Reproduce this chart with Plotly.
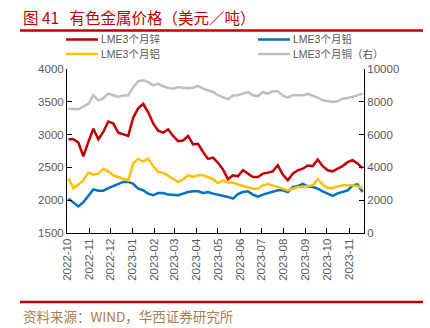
import pandas as pd
import plotly.graph_objects as go

# Weekly observation dates (Mondays)
dates = pd.date_range("2022-10-03", periods=60, freq="7D")

# LME 3-month prices, USD/t
zinc = [2930, 2930, 2880, 2670, 2890, 3090, 2930, 3040, 3200, 3170,
        3030, 3010, 2980, 3260, 3400, 3470, 3340, 3170, 3060, 3030,
        3080, 2980, 2900, 2910, 2980, 2850, 2860, 2735, 2630, 2650,
        2570, 2470, 2320, 2380, 2365, 2456, 2405, 2354, 2354, 2405,
        2420, 2440, 2532, 2390, 2303, 2405, 2456, 2480, 2530, 2520,
        2620, 2520, 2456, 2440, 2480, 2520, 2580, 2610, 2560, 2490]

lead = [2024, 1960, 1905, 1970, 2065, 2165, 2145, 2145, 2185, 2215,
        2240, 2278, 2278, 2248, 2176, 2150, 2100, 2075, 2110, 2110,
        2085, 2075, 2075, 2100, 2125, 2135, 2135, 2110, 2125, 2100,
        2085, 2075, 2050, 2024, 2095, 2125, 2135, 2085, 2055, 2085,
        2105, 2125, 2150, 2150, 2125, 2200, 2215, 2248, 2210, 2200,
        2176, 2135, 2100, 2065, 2105, 2125, 2150, 2227, 2240, 2125]

aluminium = [2330, 2185, 2240, 2300, 2420, 2390, 2405, 2480, 2440, 2380,
             2354, 2330, 2300, 2560, 2633, 2590, 2633, 2520, 2430, 2420,
             2370, 2320, 2278, 2315, 2380, 2354, 2380, 2380, 2350, 2320,
             2262, 2300, 2268, 2268, 2240, 2215, 2200, 2176, 2176, 2227,
             2248, 2227, 2200, 2176, 2150, 2176, 2200, 2200, 2210, 2227,
             2320, 2240, 2185, 2185, 2210, 2227, 2227, 2227, 2215, 2185]

copper = [7580, 7550, 7550, 7700, 7880, 8394, 8090, 8200, 8496, 8400,
          8300, 8390, 8380, 8900, 9250, 9310, 9200, 9000, 9100, 8950,
          8850, 8800, 8900, 8860, 8820, 8850, 8970, 8800, 8700, 8600,
          8400, 8250, 8150, 8380, 8400, 8500, 8600, 8400, 8350, 8600,
          8500, 8650, 8650, 8370, 8250, 8400, 8400, 8400, 8480, 8370,
          8250, 8090, 8030, 7990, 8030, 8190, 8230, 8290, 8390, 8500]

series = [
    ("LME3个月锌", zinc, "#C00000", "y"),
    ("LME3个月铅", lead, "#0070C0", "y"),
    ("LME3个月铝", aluminium, "#FFC000", "y"),
    ("LME3个月铜（右）", copper, "#BFBFBF", "y2"),
]

# Canvas geometry in pixels, used to place decorations in paper coordinates
W, H = 430, 328
L, R, T, B = 67, 364, 69, 233


def px(x):
    return (x - L) / (R - L)


def py(y):
    return (B - y) / (B - T)


fig = go.Figure()
for name, vals, color, axis in series:
    fig.add_trace(go.Scatter(
        x=dates, y=vals, name=name, mode="lines", yaxis=axis,
        line=dict(color=color, width=2.5), showlegend=False,
    ))

tick_font = dict(family="Liberation Sans, Arial, sans-serif", size=11.5, color="#595959")
cjk = "Noto Sans CJK SC"
legend_font = dict(family="Liberation Sans, " + cjk, size=10.5, color="#595959")

shapes = [
    dict(type="line", xref="paper", yref="paper", x0=px(20), x1=px(423),
         y0=py(30.5), y1=py(30.5), line=dict(color="#C00000", width=2.5)),
    dict(type="line", xref="paper", yref="paper", x0=px(20), x1=px(423),
         y0=py(302), y1=py(302), line=dict(color="#C00000", width=2.5)),
]
annotations = [
    dict(text="图 41   有色金属价格（美元／吨）", xref="paper", yref="paper",
         x=px(21), y=py(17), xanchor="left", yanchor="middle", showarrow=False,
         font=dict(family=cjk, size=15.5, color="#C00000")),
    dict(text="资料来源：WIND，华西证券研究所", xref="paper", yref="paper",
         x=px(21), y=py(316), xanchor="left", yanchor="middle", showarrow=False,
         font=dict(family=cjk, size=13.5, color="#A88050")),
]

# Two-column legend built from line samples and labels
legend_pos = [(66, 39.5), (258, 39.5), (66, 54), (258, 54)]
for (name, _, color, _), (lx, ly) in zip(series, legend_pos):
    shapes.append(dict(type="line", xref="paper", yref="paper",
                       x0=px(lx), x1=px(lx + 32), y0=py(ly), y1=py(ly),
                       line=dict(color=color, width=2.5)))
    annotations.append(dict(text=name, xref="paper", yref="paper",
                            x=px(lx + 33), y=py(ly), xanchor="left", yanchor="middle",
                            showarrow=False, font=legend_font))

fig.update_layout(
    width=W, height=H,
    margin=dict(l=L, r=W - R, t=T, b=H - B),
    paper_bgcolor="white", plot_bgcolor="white",
    shapes=shapes, annotations=annotations,
    xaxis=dict(
        range=["2022-10-01", "2023-11-22"], tickformat="%Y-%m", dtick="M1",
        tick0="2022-10-01", tickangle=-90, ticks="inside", ticklen=5,
        tickcolor="black", showline=True, linecolor="black", linewidth=1,
        showgrid=False, zeroline=False, tickfont=tick_font,
    ),
    yaxis=dict(
        range=[1500, 4000], dtick=500, ticks="inside", ticklen=5,
        tickcolor="black", showline=True, linecolor="black", linewidth=1,
        showgrid=False, zeroline=False, tickfont=tick_font, tickformat="d",
    ),
    yaxis2=dict(
        range=[0, 10000], dtick=2000, overlaying="y", side="right",
        ticks="inside", ticklen=5, tickcolor="black", showline=True,
        linecolor="black", linewidth=1, showgrid=False, zeroline=False,
        tickfont=tick_font, tickformat="d",
    ),
)

fig.write_html("out.html")
